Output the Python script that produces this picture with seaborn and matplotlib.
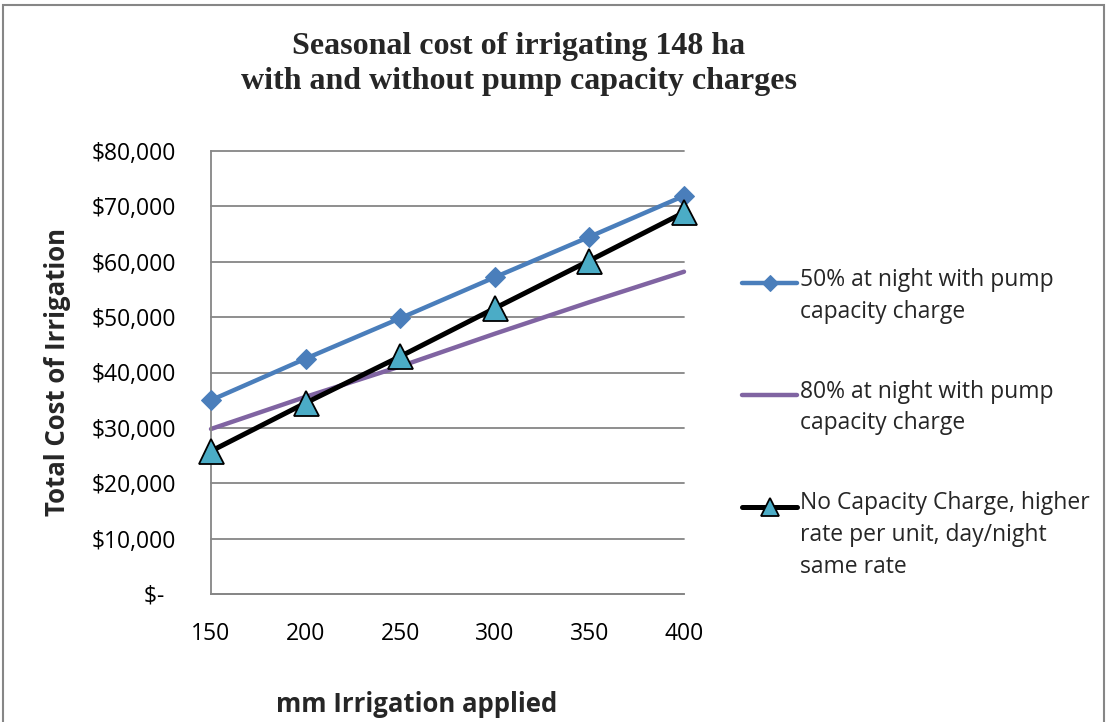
import matplotlib
matplotlib.use("Agg")
import matplotlib.pyplot as plt
import seaborn as sns
import pandas as pd
import numpy as np
from matplotlib.ticker import FuncFormatter
from matplotlib.patches import Rectangle

mm = [150, 200, 250, 300, 350, 400]
cost_50 = [35000, 42500, 49800, 57200, 64500, 71900]
cost_80 = [29800, 35600, 41100, 47000, 52700, 58200]
cost_none = [25800, 34500, 42900, 51600, 60200, 68900]
labels = ["50% at night with pump\ncapacity charge",
          "80% at night with pump\ncapacity charge",
          "No Capacity Charge, higher\nrate per unit, day/night\nsame rate"]
yticks = [0, 10000, 20000, 30000, 40000, 50000, 60000, 70000, 80000]

sns.set_style("white")
plt.rcParams['font.family'] = ['Open Sans', 'DejaVu Sans']

fig = plt.figure(figsize=(11.08, 7.22), dpi=100)
ax = fig.add_axes([211/1108, 1-594/722, (684-211)/1108, (594-151)/722])

grid_c = "#868686"
for y in yticks:
    ax.axhline(y, color=grid_c, lw=1.3, zorder=0)

df50 = pd.DataFrame({"mm": mm, "cost": cost_50})
df80 = pd.DataFrame({"mm": mm, "cost": cost_80})
dfn = pd.DataFrame({"mm": mm, "cost": cost_none})

sns.lineplot(data=df50, x="mm", y="cost", ax=ax, color="#4A7EBB", lw=3.2,
             marker="D", markersize=10, markeredgecolor="#4A7EBB",
             label=labels[0], zorder=3)
sns.lineplot(data=df80, x="mm", y="cost", ax=ax, color="#8064A2", lw=3.2,
             label=labels[1], zorder=2)
sns.lineplot(data=dfn, x="mm", y="cost", ax=ax, color="black", lw=3.6,
             marker="^", markersize=18, markerfacecolor="#4BACC6",
             markeredgecolor="black", markeredgewidth=1.3,
             label=labels[2], zorder=4)

ax.set_xlim(150, 400)
ax.set_ylim(0, 80000)
ax.set_xticks(mm)
ax.set_yticks(yticks)
ax.yaxis.set_major_formatter(FuncFormatter(lambda v, p: "$-  " if v == 0 else f"${v:,.0f}"))
for s in ["top", "right"]:
    ax.spines[s].set_visible(False)
for s in ["left", "bottom"]:
    ax.spines[s].set_color(grid_c)
    ax.spines[s].set_linewidth(1.3)
ax.tick_params(axis="both", direction="out", length=9, width=1.3, color=grid_c,
               labelsize=16.5, labelcolor="black")
ax.tick_params(axis="x", pad=11)
ax.tick_params(axis="y", pad=16)
for l in ax.lines:
    l.set_clip_on(False)

ax.set_xlabel("mm Irrigation applied", fontsize=18.5, fontweight="bold")
ax.set_ylabel("Total Cost of Irrigation", fontsize=18.5, fontweight="bold")
ax.xaxis.set_label_coords((417-211)/473, (594-691)/443)
ax.yaxis.set_label_coords((71-211)/473, 0.5)

ax.get_legend().remove()
h, l = ax.get_legend_handles_labels()
fs_leg = 16.5
lsp = 1.42
leg = fig.legend(h, l, loc="upper left", bbox_to_anchor=(742/1108, 1-268/722),
                 frameon=False, fontsize=fs_leg, handlelength=2.4, handletextpad=0.15,
                 labelspacing=2.45, borderaxespad=0, borderpad=0)
fig.canvas.draw()
texts = leg.get_texts()
for t in texts:
    t.set_linespacing(lsp)
fig.canvas.draw()
# align each legend handle with the first line of its label
renderer = fig.canvas.get_renderer()
for t, hd in zip(texts, leg.legend_handles):
    nlines = t.get_text().count("\n") + 1
    bb = t.get_window_extent(renderer)
    pitch_pt = (bb.height / max(nlines, 1)) * 72 / fig.dpi
    shift = (nlines - 1) / 2 * pitch_pt
    yd = np.asarray(hd.get_ydata(), dtype=float)
    hd.set_ydata(yd + shift)
leg.legend_handles[0].set_markersize(8)
leg.legend_handles[2].set_markersize(13)

fig.text(519/1108, 1-64/722, "Seasonal cost of irrigating 148 ha\nwith and without pump capacity charges",
         ha="center", va="center", fontsize=23, fontweight="bold",
         family="Liberation Serif", linespacing=1.3)

fig.patches.append(Rectangle((3/1108, -0.05), 1101/1108, 1.05 - 5/722,
                             transform=fig.transFigure, fill=False,
                             edgecolor="#868686", lw=1.5))

fig.savefig("out.png", dpi=100)
